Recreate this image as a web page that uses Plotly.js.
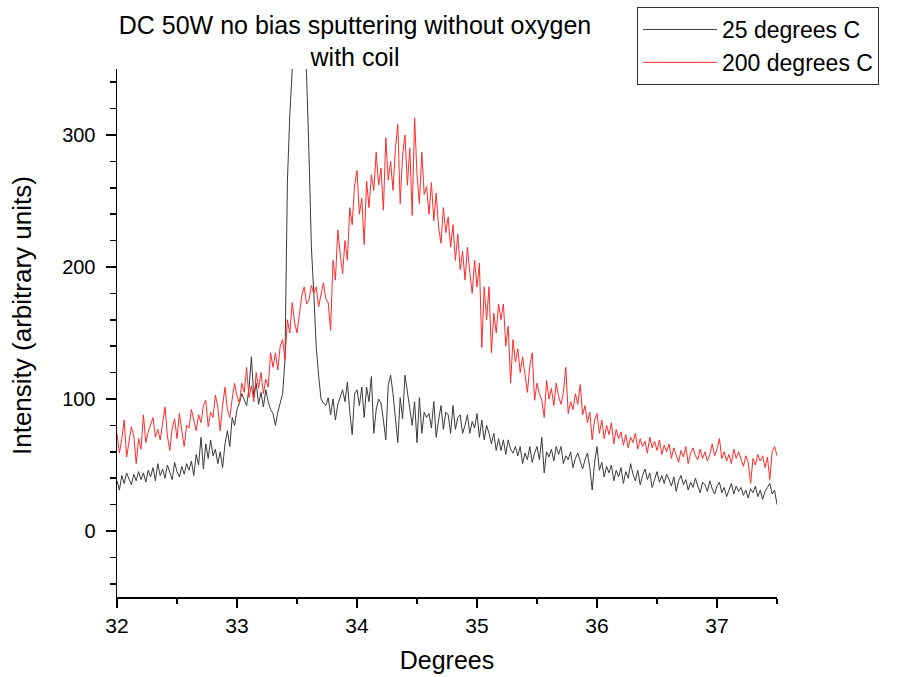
<!DOCTYPE html>
<html>
<head>
<meta charset="utf-8">
<script src="https://cdn.plot.ly/plotly-3.0.1.min.js"></script>
<style>html,body{margin:0;padding:0;background:#fff;}#chart{width:898px;height:677px;}</style>
</head>
<body>
<div id="chart"></div>
<script>
// Scan grid: start angle and step (degrees)
const startDeg = 32.0;
const stepDeg = 0.02;

const seriesNames = ["25 degrees C", "200 degrees C"];

// Intensity, 25 degrees C (one value per 0.02 degree step, 32.00 .. 37.50)
const intensity25 = [
  38, 31, 42, 36, 44,   40, 35, 43, 38, 45,   39, 44, 37, 46, 41,   48, 38, 51, 42, 47,
  40, 50, 44, 39, 52,   45, 41, 49, 43, 51,   46, 53, 42, 58, 50,   71, 47, 66, 55, 69,
  57, 62, 51, 60, 48,   66, 76, 64, 86, 80,   92, 97, 104, 99, 95,  108, 132, 101, 112, 96,
  105, 94, 107, 98, 92, 89, 80, 90, 97, 104,  130, 265, 315, 350, 400, 430, 450, 430, 390, 345,
  285, 215, 180, 140, 118, 100, 97, 95, 101, 88, 100, 84, 96, 101, 107, 98, 113, 90, 73, 104,
  107, 95, 109, 86, 109, 98, 117, 74, 92, 100,  97, 84, 69, 110, 118, 104, 88, 67, 101, 85,
  118, 104, 92, 80, 98, 67, 101, 74, 90, 86,   89, 78, 98, 71, 84,  95, 77, 90, 88, 74,
  95, 77, 86, 88, 74,   80, 88, 74, 83, 78,   89, 71, 84, 69, 80,   74, 66, 74, 61, 70,
  61, 69, 58, 69, 62,   59, 64, 57, 64, 51,   59, 54, 64, 52, 59,   64, 54, 71, 44, 60,
  56, 62, 53, 64, 58,   64, 51, 57, 54, 60,   48, 55, 59, 52, 47,   54, 59, 48, 31, 52,
  64, 46, 52, 41, 49,   44, 50, 38, 46, 41,   48, 36, 45, 40, 51,   43, 38, 46, 35, 42,
  47, 39, 44, 33, 40,   45, 37, 42, 36, 43,   39, 34, 41, 30, 38,   42, 35, 39, 31, 37,
  33, 40, 34, 29, 37,   35, 30, 38, 32, 28,   34, 37, 29, 33, 26,   31, 36, 28, 34, 30,
  33, 27, 31, 25, 32,   29, 34, 26, 31, 24,   30, 33, 36, 28, 31,   20
];

// Intensity, 200 degrees C
const intensity200 = [
  74, 59, 70, 84, 56,   66, 79, 72, 51, 70,   62, 88, 67, 75, 80,   86, 71, 77, 69, 82,
  94, 72, 61, 78, 85,   70, 89, 76, 64, 80,   78, 92, 85, 76, 88,   82, 95, 99, 79, 90,
  86, 103, 94, 76, 95,  109, 92, 86, 100, 112, 102, 97, 112, 105, 124, 101, 110, 98, 120, 108,
  120, 104, 115, 109, 135, 124, 135, 122, 140, 145, 130, 160, 150, 173, 158, 150, 164, 178, 185, 172,
  175, 186, 180, 185, 170, 180, 188, 176, 173, 152, 205, 190, 228, 210, 195, 220, 205, 245, 232, 262,
  273, 240, 252, 217, 265, 245, 270, 258, 287, 262, 275, 243, 298, 266, 280, 258, 290, 308, 248, 285,
  300, 262, 290, 239, 313, 270, 248, 287, 255, 261, 240, 264, 235, 256, 230, 218, 245, 226, 238, 215,
  232, 205, 225, 198, 212, 190, 215, 196, 180, 205, 185, 203, 139, 185, 160, 185, 135, 165, 150, 172,
  160, 172, 140, 155, 112, 145, 128, 138, 120, 132, 118, 105, 125, 135, 99,  112, 104, 99, 86, 114,
  100, 108, 95, 112, 102, 96, 105, 124, 89, 98,  92, 104, 96, 111, 88,  95, 82, 90, 69, 84,
  89, 74, 84, 70, 80,   73, 82, 66, 77, 70,   75, 65, 73, 63, 71,   67, 74, 62, 70, 64,
  68, 59, 71, 63, 68,   61, 69, 58, 65, 60,   66, 55, 63, 58, 52,   61, 56, 64, 51, 59,
  63, 57, 54, 62, 55,   60, 53, 58, 66, 57,   62, 70, 55, 60, 53,   58, 51, 62, 55, 60,
  54, 49, 57, 52, 36,   55, 50, 58, 53, 57,   48, 56, 39, 60, 64,   57
];

const xTickVals = [32, 33, 34, 35, 36, 37];
const yTickVals = [0, 100, 200, 300];

const FONT = "Liberation Sans, Arial, sans-serif";

const traces = [
  {
    type: "scatter", mode: "lines", name: seriesNames[0],
    x0: startDeg, dx: stepDeg, y: intensity25,
    line: {color: "#3a3a3a", width: 1}
  },
  {
    type: "scatter", mode: "lines", name: seriesNames[1],
    x0: startDeg, dx: stepDeg, y: intensity200,
    line: {color: "#ff2a2a", width: 1}
  }
];

const layout = {
  width: 898, height: 677,
  paper_bgcolor: "#ffffff", plot_bgcolor: "#ffffff",
  margin: {l: 117, r: 121, t: 69, b: 80, pad: 0, autoexpand: false},
  font: {family: FONT, color: "#000", size: 20},
  title: {
    text: "DC 50W no bias sputtering without oxygen<br>with coil",
    font: {family: FONT, size: 25, color: "#000"},
    x: 355 / 898, xref: "container", xanchor: "center",
    y: 0.95, yref: "container", yanchor: "top"
  },
  showlegend: true,
  legend: {
    xref: "container", yref: "container",
    x: 637 / 898, xanchor: "left", y: 1 - 7 / 677, yanchor: "top",
    bgcolor: "#ffffff", bordercolor: "#333", borderwidth: 1,
    font: {family: FONT, size: 23, color: "#000"},
    itemwidth: 74,
    tracegroupgap: 0
  },
  annotations: [{
    text: "Intensity (arbitrary units)",
    xref: "paper", yref: "paper",
    x: (22 - 117) / 660, y: (597 - 315) / 528,
    xanchor: "center", yanchor: "middle",
    textangle: -90, showarrow: false,
    font: {family: FONT, size: 26, color: "#000"}
  }],
  xaxis: {
    range: [32, 37.5], tickvals: xTickVals, ticktext: xTickVals.map(String),
    showgrid: false, zeroline: false,
    showline: true, linecolor: "#000", linewidth: 1.5, mirror: false,
    ticks: "outside", ticklen: 9, tickwidth: 1.5, tickcolor: "#000",
    minor: {dtick: 0.5, tick0: 32, ticks: "outside", ticklen: 5, tickwidth: 1.5, tickcolor: "#000", showgrid: false},
    tickfont: {family: FONT, size: 21},
    title: {text: "Degrees", font: {family: FONT, size: 25}, standoff: 16}
  },
  yaxis: {
    range: [-50, 350], tickvals: yTickVals, ticktext: yTickVals.map(String),
    showgrid: false, zeroline: false,
    showline: true, linecolor: "#000", linewidth: 1.5, mirror: false,
    ticks: "outside", ticklen: 10, tickwidth: 1.5, tickcolor: "#000",
    minor: {dtick: 20, tick0: 0, ticks: "outside", ticklen: 6, tickwidth: 1.5, tickcolor: "#000", showgrid: false},
    tickfont: {family: FONT, size: 20},
    ticklabelstandoff: 6
  }
};

Plotly.newPlot("chart", traces, layout, {displayModeBar: false, staticPlot: true});
</script>
</body>
</html>
